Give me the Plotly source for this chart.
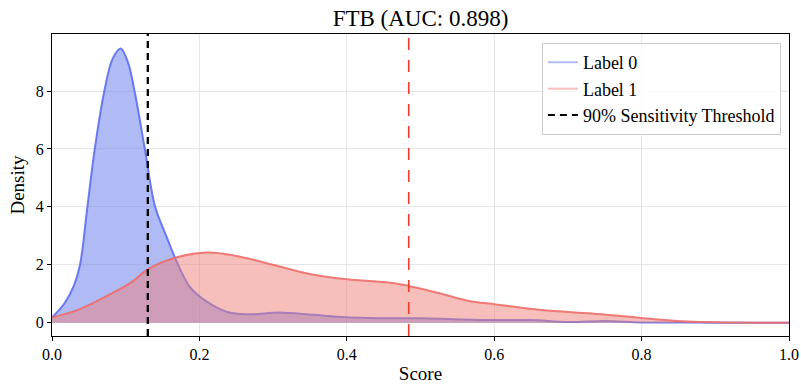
import plotly.graph_objects as go

# ---- data ----
title_text = "FTB (AUC: 0.898)"
x_label = "Score"
y_label = "Density"

label0_score = [0.0, 0.017, 0.03, 0.038, 0.048, 0.058, 0.071, 0.082, 0.093, 0.103, 0.112,
                0.126, 0.14, 0.155, 0.167, 0.187, 0.21, 0.237, 0.264, 0.31, 0.355, 0.40,
                0.473, 0.5, 0.6, 0.65, 0.7, 0.75, 0.8, 0.85, 0.9, 1.0]
label0_density = [0.18, 0.67, 1.3, 2.0, 4.0, 6.0, 8.0, 9.1, 9.47, 9.0, 8.0,
                  6.0, 4.0, 3.0, 2.24, 1.24, 0.73, 0.38, 0.29, 0.35, 0.27, 0.19,
                  0.15, 0.15, 0.09, 0.09, 0.02, 0.06, 0.01, 0.01, 0.0, 0.0]

label1_score = [0.0, 0.035, 0.081, 0.108, 0.13, 0.167, 0.21, 0.255, 0.301, 0.346, 0.40,
                0.459, 0.484, 0.527, 0.564, 0.602, 0.664, 0.732, 0.772, 0.818, 0.863,
                0.91, 0.95, 1.0]
label1_density = [0.18, 0.44, 1.01, 1.40, 1.84, 2.24, 2.42, 2.28, 1.99, 1.70, 1.50,
                  1.38, 1.27, 1.01, 0.76, 0.63, 0.44, 0.32, 0.23, 0.12, 0.04,
                  0.01, 0.0, 0.0]

sens_threshold = 0.13     # 90% sensitivity threshold (black)
other_threshold = 0.484   # second threshold (red)

series_names = ["Label 0", "Label 1", "90% Sensitivity Threshold"]
x_ticks = [0.0, 0.2, 0.4, 0.6, 0.8, 1.0]
y_ticks = [0, 2, 4, 6, 8]

FONT = "Liberation Serif"

fig = go.Figure()

fig.add_trace(go.Scatter(
    x=label0_score, y=label0_density, mode="lines", line_shape="spline",
    line=dict(color="rgba(85,105,240,0.85)", width=2),
    fill="tozeroy", fillcolor="rgba(97,117,235,0.5)", showlegend=False))
fig.add_trace(go.Scatter(
    x=label1_score, y=label1_density, mode="lines", line_shape="spline",
    line=dict(color="rgba(238,110,105,0.9)", width=2),
    fill="tozeroy", fillcolor="rgba(237,128,122,0.5)", showlegend=False))

# vertical thresholds spanning the axis height
fig.add_shape(type="line", xref="x", yref="paper", x0=other_threshold, x1=other_threshold,
              y0=0, y1=1, line=dict(color="#f23a26", width=1.6, dash="12px,10px"))
fig.add_shape(type="line", xref="x", yref="paper", x0=sens_threshold, x1=sens_threshold,
              y0=0, y1=1, line=dict(color="black", width=2.3, dash="7px,5px"))

# legend entries
fig.add_trace(go.Scatter(x=[None], y=[None], mode="lines", name=series_names[0],
                         line=dict(color="rgba(97,117,235,0.5)", width=2)))
fig.add_trace(go.Scatter(x=[None], y=[None], mode="lines", name=series_names[1],
                         line=dict(color="rgba(237,128,122,0.5)", width=2)))
fig.add_trace(go.Scatter(x=[None], y=[None], mode="lines", name=series_names[2],
                         line=dict(color="black", width=2, dash="7px,5px")))

axis_common = dict(showline=True, linecolor="black", linewidth=1, mirror=True,
                   ticks="outside", ticklen=4, tickcolor="black", automargin=False,
                   showgrid=True, gridcolor="#e6e6e6", gridwidth=1, zeroline=False,
                   tickfont=dict(family=FONT, size=16, color="black"))

fig.update_layout(
    width=801, height=384,
    margin=dict(l=52, r=12, t=34, b=48),
    font=dict(family=FONT, color="black"),
    paper_bgcolor="white", plot_bgcolor="white",
    title=dict(text=title_text, x=0.5, xref="paper", xanchor="center", y=0.953, yanchor="middle",
               font=dict(family=FONT, size=23, color="black")),
    xaxis=dict(range=[0, 1], tickvals=x_ticks, ticktext=[f"{v:.1f}" for v in x_ticks],
               title=dict(text=x_label, font=dict(family=FONT, size=19, color="black"), standoff=4),
               **axis_common),
    yaxis=dict(range=[-0.46, 9.97], tickvals=y_ticks,
               title=dict(text=y_label, font=dict(family=FONT, size=19, color="black"), standoff=6),
               **axis_common),
    legend=dict(x=0.989, y=0.97, xanchor="right", yanchor="top",
                bgcolor="rgba(255,255,255,0.8)", bordercolor="#cccccc", borderwidth=1,
                font=dict(family=FONT, size=18, color="black"), tracegroupgap=0),
)

fig.write_html("out.html")
